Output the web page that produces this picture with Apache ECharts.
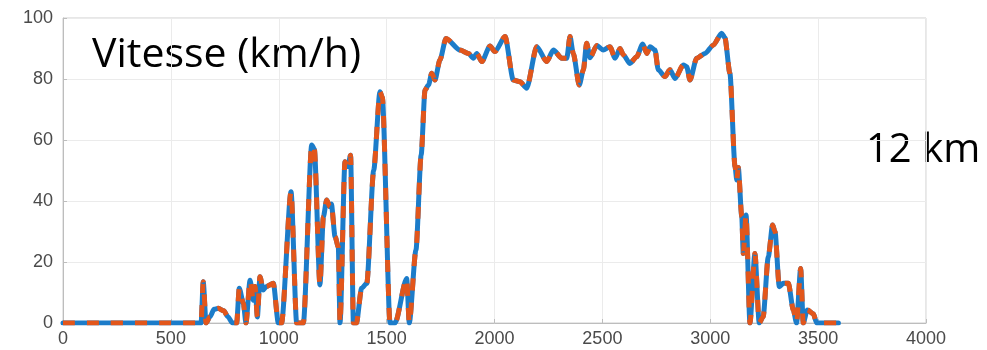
<!DOCTYPE html>
<html>
<head>
<meta charset="utf-8">
<script src="https://cdn.jsdelivr.net/npm/echarts@6/dist/echarts.min.js"></script>
<style>
  html, body { margin: 0; padding: 0; background: #fff; }
  #chart { width: 987px; height: 350px; }
</style>
</head>
<body>
<div id="chart"></div>
<script>
// temps (s) et vitesse (km/h)
const t = [
  0, 640, 650, 663, 681, 700, 720, 745, 765, 785, 805, 817, 836, 848, 867, 882,
  890, 901, 913, 928, 943, 975, 998, 1013, 1057, 1083, 1114, 1153, 1165, 1191,
  1207, 1222, 1237, 1244, 1261, 1276, 1284, 1307, 1320, 1333, 1346, 1360, 1384,
  1408, 1440, 1469, 1480, 1516, 1539, 1593, 1605, 1636, 1660, 1678, 1694, 1709,
  1724, 1747, 1775, 1840, 1879, 1902, 1918, 1941, 1979, 2002, 2049, 2087, 2118,
  2149, 2196, 2242, 2273, 2312, 2335, 2350, 2365, 2393, 2412, 2427, 2443, 2474,
  2504, 2535, 2559, 2582, 2597, 2628, 2659, 2687, 2706, 2721, 2744, 2759, 2790,
  2813, 2837, 2875, 2891, 2906, 2937, 2976, 3014, 3053, 3068, 3091, 3115, 3123,
  3130, 3146, 3153, 3166, 3184, 3207, 3227, 3245, 3269, 3289, 3300, 3320, 3339,
  3362, 3385, 3400, 3419, 3431, 3450, 3478, 3493, 3594
];
const vitesse = [
  0, 0, 13.5, 0, 2, 4.5, 4.8, 4, 2, 0, 0, 11.4, 6.4, 0, 14, 7.5,
  12, 2, 15.2, 10.8, 12, 13, 0, 0, 43, 0, 0, 58.4, 57, 12.5,
  34.9, 40.3, 38.1, 39, 28.3, 25, 0, 52.9, 51.3, 55, 0, 0, 11.4,
  13, 50, 75.8, 74, 0, 0, 14.6, 0, 24, 55, 76.4, 78, 81.9,
  79.7, 86.2, 93.3, 89.5, 88.4, 86.8, 88.4, 85.7, 90.8, 89, 93.9, 79.7, 79.1,
  77, 90.6, 85.7, 89.5, 86.8, 86.8, 93.9, 88.4, 78, 83, 91.7, 87, 91,
  89.5, 90.6, 86.8, 90, 87.9, 85.1, 87.3, 91.5, 88.4, 90.6, 89.5, 83, 80.8,
  83, 80.2, 84.6, 84, 79.7, 86.8, 88.4, 91.1, 95, 93.5, 81.9, 51.2, 46.9,
  51, 34.9, 22.8, 35.4, 0, 22.8, 0, 2, 21.7, 32.1, 30, 11.9, 13,
  13, 4.3, 0, 17.9, 0, 4.3, 3, 0, 0
];

const points = t.map((x, i) => [x, vitesse[i]]);

const chart = echarts.init(document.getElementById('chart'), null, { renderer: 'canvas' });

const axisLabel = { color: '#4a4a4a', fontSize: 18, fontFamily: 'Liberation Sans, Arial, sans-serif' };
const gridLine = { show: true, lineStyle: { color: '#ebebeb', width: 1 } };

chart.setOption({
  animation: false,
  grid: {
    left: 63, right: 61, top: 18, bottom: 27,
    show: true, borderColor: '#cfcfcf', borderWidth: 1, backgroundColor: '#fff'
  },
  xAxis: {
    type: 'value', min: 0, max: 4000, interval: 500,
    axisLine: { lineStyle: { color: '#bdbdbd' } },
    axisTick: { show: true, inside: true, length: 4, lineStyle: { color: '#bdbdbd' } },
    axisLabel: { ...axisLabel, margin: 7, formatter: (v) => String(v) },
    splitLine: gridLine
  },
  yAxis: {
    type: 'value', min: 0, max: 100, interval: 20,
    axisLine: { show: true, lineStyle: { color: '#bdbdbd' } },
    axisTick: { show: true, inside: true, length: 4, lineStyle: { color: '#bdbdbd' } },
    axisLabel: { ...axisLabel, margin: 10 },
    splitLine: gridLine
  },
  series: [
    {
      name: 'mesure', type: 'line', data: points, showSymbol: false,
      smooth: 0.25, smoothMonotone: 'x',
      lineStyle: { color: '#1c7cc9', width: 5, join: 'round', cap: 'round' }
    },
    {
      name: 'simulation', type: 'line', data: points, showSymbol: false,
      smooth: 0.25, smoothMonotone: 'x',
      lineStyle: { color: '#e2561b', width: 5, type: [12, 12], join: 'round' }
    }
  ],
  graphic: [
    {
      type: 'text', left: 92, top: 35,
      style: { text: 'Vitesse (km/h)', fill: '#000', fontSize: 41, fontFamily: 'Open Sans, sans-serif' }
    },
    {
      type: 'text', left: 866, top: 131,
      style: { text: '12 km', fill: '#000', fontSize: 40, fontFamily: 'Open Sans, sans-serif' }
    }
  ]
});
</script>
</body>
</html>
